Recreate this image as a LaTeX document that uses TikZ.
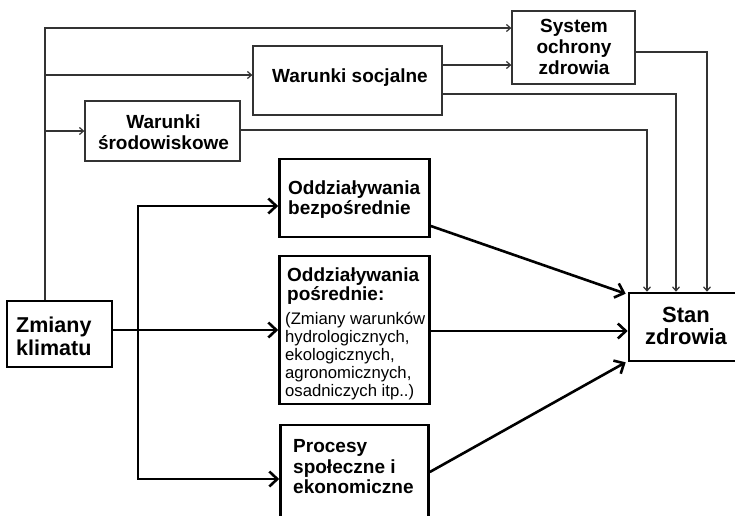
\documentclass[tikz,border=0pt]{standalone}
\usepackage{fontspec}
\setmainfont{Liberation Sans}
\usetikzlibrary{arrows.meta,calc}
\begin{document}
\begin{tikzpicture}[x=1pt,y=-1pt,
  thinbox/.style={draw=black!80, line width=1.3pt, rectangle, inner sep=0pt},
  thickbox/.style={draw=black, line width=2.6pt, rectangle, inner sep=0pt},
  thinline/.style={draw=black!80, line width=1.2pt},
  thinarrow/.style={thinline, -{Straight Barb[length=4pt,width=7pt]}},
  thickline/.style={draw=black, line width=2.6pt},
  thickarrow/.style={thickline, -{Straight Barb[length=8pt,width=15pt]}},
  medtext/.style={font=\fontsize{19}{21}\selectfont\bfseries, inner sep=0pt},
  bigtext/.style={font=\fontsize{21.5}{23}\selectfont\bfseries, inner sep=0pt},
  smalltext/.style={font=\fontsize{16.7}{18.2}\selectfont, inner sep=0pt}]
\useasboundingbox (0,0) rectangle (735,515);
\clip (0,0) rectangle (735,515);

% boxes
\node[thinbox, minimum width=123pt, minimum height=73pt] (sys) at (573.5,47.5) {};
\node[thinbox, minimum width=189pt, minimum height=69pt] (soc) at (347.5,80.5) {};
\node[thinbox, minimum width=155pt, minimum height=60pt] (env) at (162.5,131) {};
\node[thickbox, minimum width=150pt, minimum height=78pt] (bez) at (354.5,198) {};
\node[thickbox, minimum width=150pt, minimum height=148pt] (pos) at (354.5,330) {};
\node[thickbox, minimum width=148pt, minimum height=110pt] (pro) at (354.5,480) {};
\node[thickbox, minimum width=105pt, minimum height=66pt] (zmi) at (59.5,334) {};
\node[thickbox, minimum width=120pt, minimum height=68pt] (stan) at (689,327) {};

% texts
\node[medtext, align=center, anchor=north] (sysT) at (574,19.3) {System\\ochrony\\zdrowia};
\node[medtext, anchor=base] (socT) at (350,82) {Warunki socjalne};
\node[medtext, align=center, anchor=north] (envT) at (163.5,114.3) {Warunki\\środowiskowe};
\node[medtext, font=\fontsize{19}{20}\selectfont\bfseries, align=left, anchor=north west] (bezT) at (288,180.2) {Oddziaływania\\bezpośrednie};
\node[medtext, font=\fontsize{19}{19.5}\selectfont\bfseries, align=left, anchor=north west] (posT) at (287,267.2) {Oddziaływania\\pośrednie:};
\node[smalltext, align=left, anchor=north west] (posS) at (285,311.6) {(Zmiany warunków\\hydrologicznych,\\ekologicznych,\\agronomicznych,\\osadniczych itp..)};
\node[medtext, font=\fontsize{19}{20.5}\selectfont\bfseries, align=left, anchor=north west] (proT) at (293,439.3) {Procesy\\społeczne i\\ekonomiczne};
\node[bigtext, align=left, anchor=north west] (zmiT) at (16,316.6) {Zmiany\\klimatu};
\node[bigtext, font=\fontsize{22}{22}\selectfont\bfseries, align=center, anchor=north] (stanT) at (686,307) {Stan\\zdrowia};

% thin connectors
\coordinate (trunk) at (45,28);
\draw[thinarrow] (zmi.north -| trunk) -- (trunk) -- (sys.west |- trunk);
\draw[thinarrow] (trunk |- 0,75) -- (soc.west |- 0,75);
\draw[thinarrow] (trunk |- env.west) -- (env.west);
\draw[thinarrow] (soc.east |- 0,65) -- (sys.west |- 0,65);
\draw[thinarrow] (sys.east |- 0,52) -| (stan.north -| 707,0);
\draw[thinarrow] (soc.east |- 0,94) -| (stan.north -| 676,0);
\draw[thinarrow] (env.east |- 0,130) -| (stan.north -| 647,0);

% thick connectors
\coordinate (split) at (138,330);
\draw[thickarrow] (zmi.east |- split) -- (pos.west |- split);
\draw[thickarrow] (split) |- (bez.west |- 0,206);
\draw[thickarrow] (split) |- (pro.west |- 0,479);
\draw[thickarrow] (bez.east |- 0,226) -- ($(stan.north west)+(-2,2)$);
\draw[thickarrow] (pos.east |- 0,331) -- (stan.west |- 0,331);
\draw[thickarrow] (pro.east |- 0,472) -- ($(stan.south west)+(-2,0)$);
\end{tikzpicture}
\end{document}
